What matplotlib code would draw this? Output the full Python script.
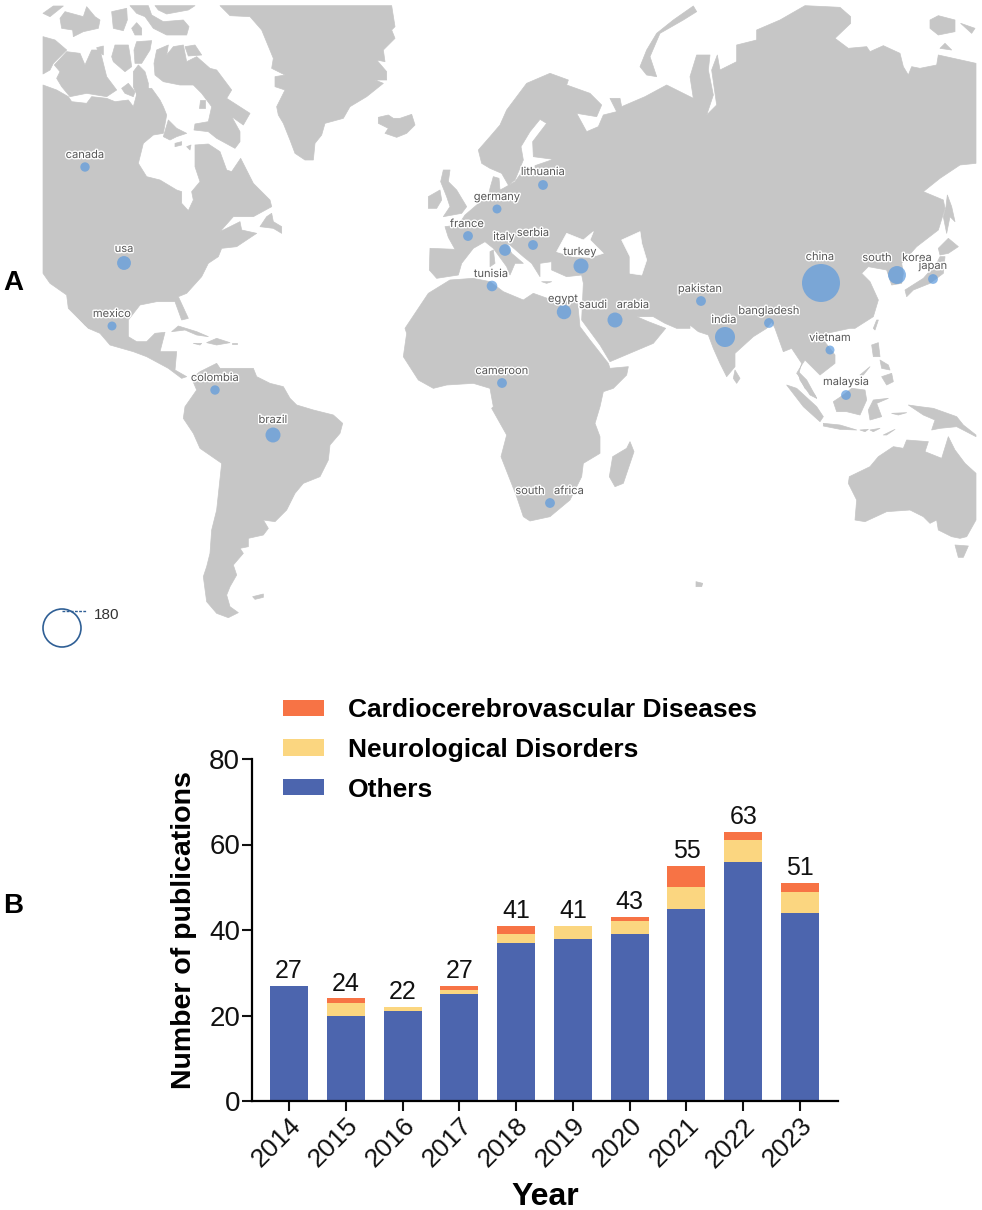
import matplotlib
matplotlib.use('Agg')
import matplotlib.pyplot as plt
import matplotlib.patheffects as pe
from matplotlib.patches import Polygon

plt.rcParams['font.family'] = ['Liberation Sans', 'DejaVu Sans']

# bar chart data
years = ['2014','2015','2016','2017','2018','2019','2020','2021','2022','2023']
others = [27,20,21,25,37,38,39,45,56,44]
neuro = [0,3,1,1,2,3,3,5,5,5]
cardio = [0,1,0,1,2,0,1,5,2,2]
totals = [27,24,22,27,41,41,43,55,63,51]

# bubble data, position is in map pixels
countries = ['canada','usa','mexico','colombia','brazil','france','germany','italy','serbia',
             'lithuania','turkey','tunisia','egypt','saudi arabia','pakistan','india','bangladesh',
             'china','south korea','japan','vietnam','malaysia','south africa','cameroon']
map_x = [85,124,112,215,273,468,497,505,533,543,581,492,564,615,701,725,769,821,897,933,830,846,550,502]
map_y = [167,263,326,390,435,236,209,250,245,185,266,286,312,320,301,337,323,283,275,279,350,395,503,383]
counts = [11,24,10,11,28,12,10,17,12,12,28,14,26,28,12,50,12,180,40,12,10,12,12,12]

# label text and where it sits on the map
label_text = ['canada','usa','mexico','colombia','brazil','france','germany','italy','serbia','lithuania',
              'turkey','tunisia','egypt','saudi','arabia','pakistan','india','bangladesh','china','south',
              'korea','japan','vietnam','malaysia','cameroon','south','africa']
label_x = [85,124,112,215,273,467,497,504,533,543,580,491,563,593,633,700,724,769,820,877,917,933,830,846,502,530,569]
label_y = [155,249,314,378,420,224,197,237,233,172,252,274,299,305,305,289,320,311,257,258,258,266,338,382,371,491,491]

def z2(pts):
    return [(x, y+960) for x, y in pts]
def z3(pts):
    return [(x+1470, y) for x, y in pts]
def z4(pts):
    return [(x+1470, y+960) for x, y in pts]

# land outlines traced at 3x the picture size
greenland = [(660,17),(1175,17),(1185,80),(1175,90),(1185,115),(1150,150),(1155,185),(1130,180),(1160,215),(1160,240),(1125,240),(1150,250),(1100,290),(1050,320),(1030,355),(975,370),(965,405),(945,430),(940,480),(915,480),(885,460),(870,420),(850,370),(835,345),(830,320),(855,270),(825,260),(825,230),(855,225),(815,205),(820,175),(785,90),(750,50),(690,47)]
iceland = [(1135,352),(1165,345),(1180,355),(1200,355),(1235,343),(1245,375),(1220,400),(1190,412),(1155,400),(1165,385),(1135,370)]
arctic = [
    [(163,195),(200,155),(240,160),(255,195),(275,150),(300,150),(320,230),(350,270),(320,290),(260,280),(210,290),(185,260),(170,235),(180,215)],
    [(129,110),(165,120),(200,150),(160,190),(150,210),(129,222)],
    [(129,40),(160,18),(190,18),(150,50)],
    [(180,55),(195,35),(250,50),(260,20),(285,50),(300,60),(295,85),(250,95),(220,110),(218,90),(185,85)],
    [(335,35),(380,25),(382,60),(370,92),(340,85)],
    [(395,85),(410,68),(425,85),(425,105),(405,105)],
    [(465,17),(585,17),(565,30),(500,42),(475,30)],
    [(390,17),(445,17),(455,45),(490,65),(550,60),(567,80),(560,105),(500,105),(460,85),(435,50),(410,40)],
    [(345,135),(385,135),(390,165),(395,200),(375,215),(340,185),(335,170)],
    [(410,125),(455,122),(450,150),(425,190),(405,190),(402,150)],
    [(290,143),(310,138),(310,165),(295,155)],
    [(400,215),(415,195),(435,215),(445,250),(445,280),(415,295),(400,260)],
    [(365,265),(385,250),(405,275),(400,290),(375,280)],
    [(555,140),(585,135),(605,165),(565,168)],
    [(462,190),(470,150),(505,135),(500,165),(520,140),(550,135),(560,185),(590,170),(630,205),(650,210),(695,270),(680,295),(750,340),(730,375),(695,350),(720,395),(720,425),(705,445),(650,415),(625,395),(582,390),(585,372),(625,365),(635,320),(605,280),(580,255),(540,255),(490,245),(465,225)],
    [(600,300),(615,300),(615,325),(598,325)],
    [(490,410),(505,360),(530,385),(560,400),(530,410),(510,420)],
    [(525,430),(545,425),(545,435),(525,440)],
    [(560,440),(573,435),(570,450)],
]
north_america = [(129,255),(170,270),(205,290),(215,305),(260,310),(275,290),(320,295),(345,305),(385,300),(400,320),(415,265),(455,265),(480,300),(490,320),(500,345),(490,400),(460,405),(430,430),(415,490),(440,530),(480,540),(530,570),(545,575),(545,610),(565,632),(580,600),(575,575),(600,545),(585,500),(585,435),(625,432),(660,455),(680,510),(695,515),(722,475),(760,550),(810,600),(815,620),(760,650),(700,650),(660,695),(720,665),(725,690),(770,700),(710,740),(665,745),(655,770),(625,790),(605,830),(560,880),(535,890),(565,955),(545,960),(525,905),(470,905),(420,915),(385,960)] + z2([(385,50),(410,65),(440,65),(465,40),(495,37),(480,95),(530,95),(525,150),(560,170),(545,175),(505,145),(440,110),(400,95),(330,75),(300,40)]) + [(265,985),(205,925),(200,885),(150,850),(129,820)]
baja = [(205,895),(250,950),(268,985),(255,975),(210,925)]
newfoundland = [(780,680),(800,650),(815,640),(820,665),(845,680),(845,700),(820,685)]
caribbean = [z2(p) for p in [
    [(515,35),(535,18),(590,35),(625,50),(590,45),(555,30)],
    [(620,68),(650,55),(690,68),(650,75)],
    [(580,70),(605,70),(600,75)],
    [(695,70),(712,70),(712,73),(695,73)],
]]
south_america = z2([(575,175),(600,155),(650,130),(660,145),(710,145),(760,145),(770,170),(810,190),(850,200),(870,235),(890,255),(940,270),(1000,285),(1028,310),(1020,340),(990,375),(985,420),(960,470),(910,490),(885,520),(860,570),(825,605),(790,600),(805,625),(790,645),(745,655),(745,680),(720,685),(730,700),(700,735),(710,765),(690,800),(680,825),(690,860),(715,878),(685,893),(650,880),(620,845),(610,770),(620,740),(630,700),(635,630),(650,570),(665,430),(600,385),(580,340),(550,295),(555,260),(590,210)])
falklands = z2([(758,830),(790,822),(790,832),(765,838)])
uk = [(1322,545),(1330,510),(1350,510),(1345,545),(1370,570),(1400,620),(1385,640),(1330,650),(1350,620),(1340,590)]
ireland = [(1285,590),(1320,570),(1325,600),(1310,625),(1285,625)]
corsica = [(1470,755),(1480,750),(1485,790),(1470,800)]
eurasia = [(1288,810),(1290,745),(1365,748),(1345,712),(1335,680),(1375,675),(1395,645),(1430,615),(1465,590),(1470,565),(1480,530),(1497,535),(1500,570)] \
    + z3([(40,565),(75,545),(100,510),(135,520),(135,497),(190,478),(130,470),(128,425),(170,370),(150,358),(120,395),(93,440),(100,480),(75,540),(55,555),(35,520),(0,505)]) \
    + [(1445,490),(1435,450),(1470,410),(1500,375)] \
    + z3([(50,330),(110,250),(180,220),(235,240),(230,255),(300,280),(335,315),(320,350),(260,340),(290,395),(325,380),(340,345),(380,335),(360,295),(390,295),(395,320),(465,290),(530,255),(610,295),(600,230),(620,165),(660,165),(655,210),(670,285),(650,345),(680,315),(665,210),(682,165),(690,210),(740,185),(740,135),(800,120),(800,90),(870,60),(945,17),(1050,22),(1082,50),(1082,70),(1035,115),(1075,145),(1130,140),(1140,155),(1180,137),(1230,160),(1240,200),(1255,225),(1265,200),(1290,205),(1340,195),(1345,165),(1458,190),(1458,490),(1410,495),(1350,535),(1300,575),(1360,600),(1365,625),(1345,690),(1280,740),(1235,790),(1240,820),(1235,850),(1205,855),(1190,810),(1135,800),(1115,820),(1140,845),(1165,900),(1150,950),(1095,985)]) \
    + z4([(1080,25),(1010,40),(1000,60),(1035,105),(1035,130),(990,165),(945,120),(935,135),(920,160),(975,225),(980,235),(945,205),(925,165),(935,130),(905,85),(880,95),(855,25),(845,5),(830,25),(790,50),(735,100),(735,140),(710,170),(690,130),(670,85),(655,45),(625,35),(600,15)]) \
    + z3([(600,985),(560,985),(525,970),(490,950),(440,950)]) \
    + z4([(475,5),(527,25),(490,70),(360,125),(330,75),(275,0)]) \
    + z3([(280,850),(275,825),(230,830),(185,810),(185,785),(150,790),(150,830),(125,790),(100,770),(60,735),(50,730),(65,760),(100,790),(75,790),(60,825),(50,800),(10,745),(-15,725)]) \
    + [(1420,745),(1385,790),(1375,825),(1310,835)]
africa = [(1215,985),(1285,880),(1350,840),(1420,835)] \
    + z3([(0,845),(40,875),(100,900),(130,880),(200,905),(262,900),(265,930)]) \
    + z4([(270,20),(300,60),(355,130),(360,145),(415,140),(410,165),(370,205),(340,215),(330,260),(315,310),(330,350),(330,400),(280,430),(275,470),(240,540),(180,590),(120,603),(100,590),(80,530),(33,410),(50,345),(5,265)]) \
    + z2([(1480,260),(1470,205),(1420,190),(1340,195),(1300,205),(1255,180),(1210,110),(1220,40)])
asia_islands = [z4(p) for p in [
    [(420,365),(432,395),(400,490),(375,500),(358,470),(368,410),(410,385)],
    [(735,150),(750,175),(740,190),(730,175)],
    [(890,195),(920,205),(980,260),(1000,290),(990,305),(940,260)],
    [(925,155),(950,180),(980,235),(960,225),(930,180)],
    [(1030,245),(1060,225),(1085,205),(1125,210),(1130,240),(1110,285),(1070,275),(1040,275)],
    [(1000,310),(1050,315),(1100,330),(1050,328),(1000,318)],
    [(1135,270),(1150,240),(1195,235),(1160,250),(1175,290),(1140,300)],
    [(1145,75),(1165,68),(1170,110),(1150,110)],
    [(1175,170),(1205,160),(1210,185),(1190,195)],
    [(1170,120),(1195,135),(1200,150),(1175,145)],
    [(1110,165),(1140,140),(1120,165)],
    [(1255,255),(1290,260),(1330,265),(1400,290),(1420,315),(1458,345),(1458,350),(1400,320),(1350,325),(1325,330),(1335,300),(1300,285)],
    [(1180,345),(1215,328),(1190,345)],
    [(1110,330),(1135,328),(1125,335)],
    [(1140,330),(1170,325),(1150,335)],
    [(1205,280),(1250,278),(1225,285)],
    [(1395,675),(1435,678),(1420,712),(1405,712)],
    [(618,785),(638,790),(635,800),(618,800)],
    [(1150,25),(1160,0),(1165,0),(1155,30)],
]] + [z3(p) for p in [
    [(1245,870),(1300,835),(1340,790),(1350,770),(1365,770),(1360,820),(1320,850),(1270,870),(1250,890)],
    [(1345,745),(1375,715),(1405,740),(1375,760),(1350,765)],
    [(1372,585),(1385,620),(1395,665),(1380,650),(1370,700),(1360,650),(1368,620)],
    [(450,200),(470,150),(500,100),(550,60),(610,18),(620,35),(580,60),(510,100),(480,170),(500,230),(470,225)],
    [(1320,60),(1345,47),(1395,60),(1395,95),(1345,105),(1320,85)],
    [(1412,70),(1455,85),(1445,100)],
    [(1350,145),(1365,130),(1385,150)],
    [(155,845),(185,845),(170,850)],
]]
australia = z4([(1078,470),(1140,440),(1165,410),(1210,380),(1240,385),(1250,360),(1315,365),(1305,395),(1355,415),(1375,350),(1395,390),(1425,430),(1458,460),(1458,600),(1430,650),(1410,655),(1385,650),(1345,630),(1340,600),(1320,610),(1300,590),(1260,570),(1190,575),(1125,605),(1095,600),(1100,540),(1075,490)])
black_sea = z3([(200,755),(230,700),(280,720),(310,695),(300,720),(340,760),(300,772),(250,770)])
caspian = z3([(395,720),(450,695),(455,730),(470,780),(455,825),(420,820),(420,770)])

land = [greenland, iceland, north_america, baja, newfoundland, south_america, falklands,
        uk, ireland, corsica, eurasia, africa, australia] + arctic + caribbean + asia_islands
water = [black_sea, caspian]

fig = plt.figure(figsize=(9.82, 12.10), dpi=100)
ax_map = fig.add_axes([0, 0, 1, 1])
ax_map.set_xlim(0, 982)
ax_map.set_ylim(1210, 0)
ax_map.axis('off')

for shape in land:
    ax_map.add_patch(Polygon([(x/3, y/3) for x, y in shape], closed=True, fc='#c6c6c6', ec='#c6c6c6',
                             lw=0.5, joinstyle='round', zorder=1))
for shape in water:
    ax_map.add_patch(Polygon([(x/3, y/3) for x, y in shape], closed=True, fc='white', ec='white',
                             lw=0.5, joinstyle='round', zorder=2))

# area of the bubble follows the count, 180 is 38 px across
sizes = [c/180*(38*0.72)**2 for c in counts]
ax_map.scatter(map_x, map_y, s=sizes, c='#5a99dd', alpha=0.7, linewidths=0, zorder=3)

halo = [pe.withStroke(linewidth=2, foreground='white')]
for t, x, y in zip(label_text, label_x, label_y):
    ax_map.text(x, y, t, ha='center', va='center', fontsize=8, family='Inter',
                color='#555555', path_effects=halo, zorder=4)

# size legend
ax_map.scatter([62], [628], s=[(38*0.72)**2], facecolors='none', edgecolors='#2f5f95', linewidths=1.2, zorder=3)
ax_map.plot([62, 87], [611, 611], color='#2f5f95', lw=1, ls=(0, (2, 1)), zorder=3)
ax_map.text(94, 615, '180', ha='left', va='center', fontsize=11, color='#333333')

ax_map.text(13, 283, 'A', ha='center', va='center', fontsize=20, fontweight='bold')
ax_map.text(13, 906, 'B', ha='center', va='center', fontsize=20, fontweight='bold')

# bar panel
ax = fig.add_axes([252/982, 1-1101/1210, (838-252)/982, (1101-759)/1210])
ax.patch.set_alpha(0)
xs = list(range(len(years)))
bottom2 = [a+b for a, b in zip(others, neuro)]
b1 = ax.bar(xs, others, width=0.67, color='#4c65ae', label='Others')
b2 = ax.bar(xs, neuro, width=0.67, bottom=others, color='#fbd680', label='Neurological Disorders')
b3 = ax.bar(xs, cardio, width=0.67, bottom=bottom2, color='#f77345', label='Cardiocerebrovascular Diseases')
for x, t in zip(xs, totals):
    ax.annotate(str(t), (x, t), xytext=(0, 2), textcoords='offset points', ha='center', va='bottom',
                fontsize=18, color='#111111')

ax.set_xlim(-0.652, 9.67)
ax.set_ylim(0, 80)
ax.set_yticks([0, 20, 40, 60, 80])
ax.set_xticks(xs)
ax.set_xticklabels(years, rotation=45, ha='right', rotation_mode='anchor')
ax.tick_params(axis='x', labelsize=19, width=1.5, length=7, color='#111111', labelcolor='#111111', pad=2)
ax.tick_params(axis='y', labelsize=20, width=1.5, length=7, color='#111111', labelcolor='#111111', pad=1.5)
ax.spines['top'].set_visible(False)
ax.spines['right'].set_visible(False)
ax.spines['left'].set_linewidth(1.6)
ax.spines['bottom'].set_linewidth(1.6)
ax.set_ylabel('Number of publications', fontsize=20.5, fontweight='bold', labelpad=9)
ax.set_xlabel('Year', fontsize=23, fontweight='bold', labelpad=7)
leg = ax.legend(handles=[b3, b2, b1], loc='upper left', bbox_to_anchor=(283/982, 1-698/1210),
                bbox_transform=fig.transFigure, frameon=False, borderpad=0, borderaxespad=0,
                handlelength=1.55, handleheight=0.57, handletextpad=0.91, labelspacing=0.6,
                prop={'weight': 'bold', 'size': 19})

fig.savefig('out.png', dpi=100)
